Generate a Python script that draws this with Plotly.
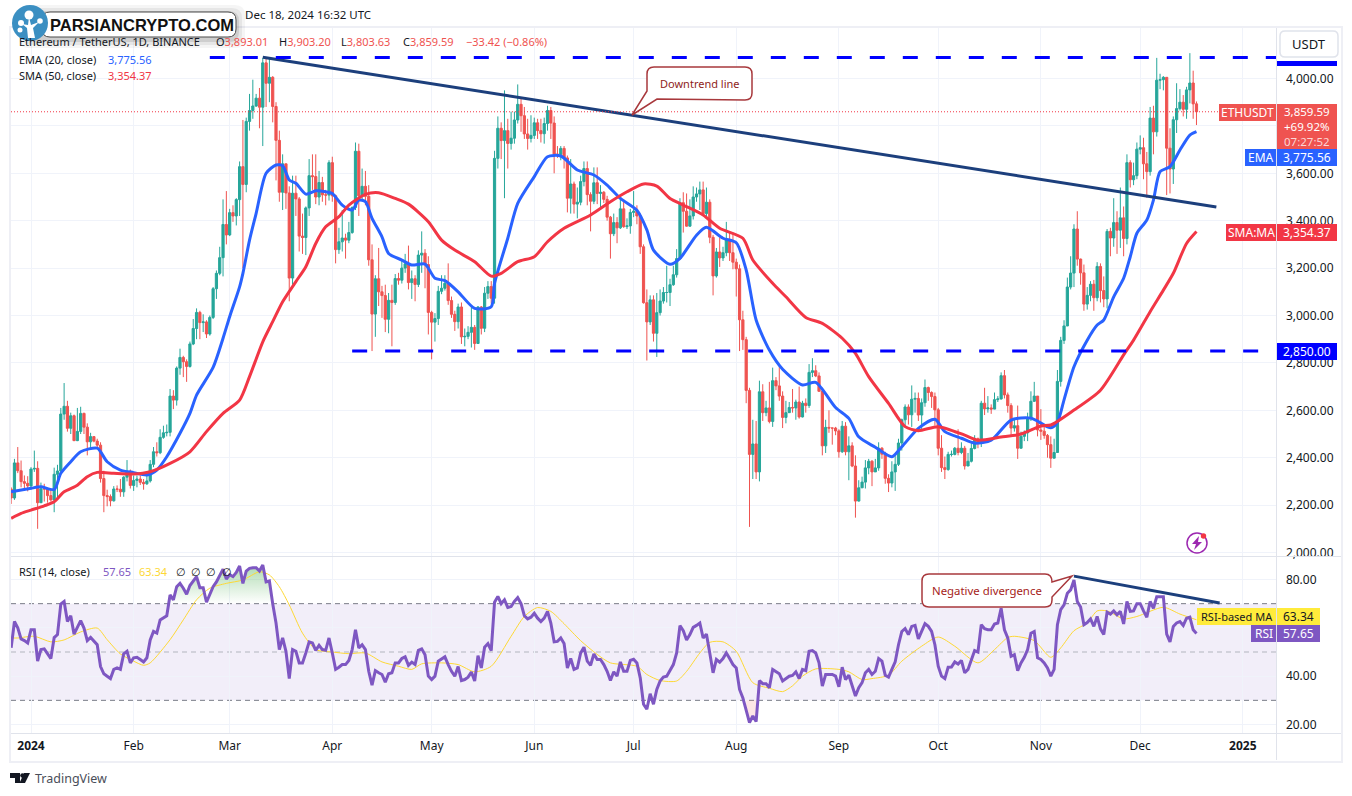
import pandas as pd
import plotly.graph_objects as go

W, H = 1352, 796
# the page draws about 791 px of paper height, positions below are reference pixels
PAPER_Y = 791

# daily candles, 2023-12-26 .. 2024-12-18, one line per month
CLOSE = [
    2230, 2378, 2345, 2299, 2292, 2281,
    2352, 2355, 2210, 2269, 2268, 2240, 2222, 2330, 2344, 2584, 2617, 2524, 2577, 2472, 2511, 2587, 2529, 2467, 2489, 2470, 2453, 2312, 2240, 2236, 2218, 2268, 2267, 2256, 2318, 2343, 2283,
    2304, 2310, 2296, 2290, 2302, 2372, 2425, 2421, 2486, 2505, 2507, 2660, 2643, 2778, 2823, 2805, 2785, 2880, 2945, 3013, 2970, 2973, 2922, 2992, 3113, 3178, 3244, 3384, 3340,
    3434, 3420, 3489, 3628, 3553, 3819, 3865, 3884, 3917, 3879, 4066, 3980, 4005, 3882, 3739, 3520, 3640, 3517, 3158, 3516, 3492, 3335, 3329, 3454, 3590, 3586, 3500, 3561, 3509, 3508, 3645,
    3505, 3278, 3311, 3327, 3318, 3350, 3456, 3693, 3505, 3545, 3503, 3235, 3006, 3155, 3100, 3084, 2984, 3064, 3055, 3156, 3149, 3200, 3218, 3139, 3155, 3131, 3255, 3263, 3215, 3013,
    2972, 2987, 3102, 3115, 3136, 3063, 3005, 2974, 3036, 2910, 2912, 2929, 2950, 2882, 3036, 2946, 3094, 3122, 3073, 3663, 3790, 3738, 3780, 3726, 3748, 3825, 3891, 3843, 3766, 3747, 3760,
    3813, 3780, 3767, 3810, 3865, 3812, 3680, 3680, 3705, 3665, 3495, 3555, 3470, 3478, 3565, 3620, 3510, 3482, 3560, 3515, 3520, 3490, 3415, 3345, 3392, 3370, 3450, 3375, 3378, 3435,
    3440, 3420, 3290, 3054, 2973, 3066, 2925, 3012, 3061, 3097, 3097, 3130, 3172, 3240, 3476, 3440, 3377, 3420, 3500, 3513, 3530, 3430, 3478, 3330, 3167, 3268, 3243, 3265, 3320, 3265, 3225,
    3197, 2982, 2898, 2684, 2414, 2458, 2340, 2678, 2590, 2610, 2553, 2725, 2703, 2660, 2570, 2590, 2612, 2610, 2635, 2572, 2630, 2620, 2760, 2767, 2745, 2680, 2450, 2528, 2525, 2525, 2513,
    2425, 2533, 2425, 2450, 2365, 2217, 2273, 2297, 2357, 2385, 2340, 2357, 2440, 2415, 2313, 2293, 2340, 2372, 2462, 2560, 2614, 2581, 2647, 2650, 2580, 2632, 2696, 2675, 2658, 2602,
    2440, 2358, 2350, 2414, 2414, 2440, 2422, 2440, 2365, 2385, 2439, 2480, 2465, 2630, 2606, 2610, 2605, 2645, 2648, 2746, 2665, 2620, 2525, 2535, 2440, 2490, 2505, 2565, 2638, 2660, 2517,
    2512, 2494, 2455, 2398, 2422, 2722, 2895, 2956, 3120, 3179, 3365, 3238, 3180, 3048, 3085, 3132, 3075, 3207, 3105, 3070, 3355, 3327, 3392, 3360, 3412, 3325, 3645, 3573, 3590, 3702,
    3708, 3640, 3607, 3833, 3775, 3993, 3995, 4005, 3706, 3618, 3826, 3873, 3900, 3870, 3952, 3981, 3893.01, 3859.59,
]
HIGH = [
    2275, 2395, 2445, 2388, 2325, 2322,
    2360, 2430, 2385, 2295, 2290, 2270, 2265, 2358, 2370, 2610, 2715, 2640, 2590, 2582, 2610, 2615, 2590, 2545, 2505, 2485, 2480, 2465, 2345, 2265, 2245, 2280, 2283, 2310, 2322, 2390, 2350,
    2325, 2325, 2325, 2310, 2335, 2390, 2445, 2465, 2520, 2535, 2540, 2690, 2685, 2785, 2860, 2830, 2815, 2890, 2985, 3030, 3020, 3005, 2980, 3000, 3120, 3190, 3290, 3490, 3525,
    3450, 3465, 3495, 3650, 3825, 3835, 3935, 3995, 3935, 3960, 4087, 4090, 4085, 4010, 3900, 3780, 3680, 3640, 3545, 3590, 3590, 3500, 3430, 3460, 3660, 3680, 3680, 3610, 3585, 3530, 3655,
    3670, 3510, 3370, 3445, 3345, 3395, 3460, 3730, 3725, 3620, 3610, 3550, 3300, 3170, 3285, 3125, 3130, 3095, 3130, 3175, 3180, 3235, 3260, 3295, 3190, 3170, 3275, 3355, 3280, 3250,
    3020, 3010, 3125, 3170, 3170, 3220, 3080, 3020, 3050, 3055, 2945, 2955, 3040, 2960, 3040, 3040, 3120, 3145, 3145, 3695, 3840, 3815, 3950, 3830, 3860, 3860, 3975, 3920, 3880, 3830, 3845,
    3835, 3830, 3830, 3835, 3885, 3880, 3840, 3715, 3715, 3715, 3675, 3660, 3565, 3540, 3590, 3650, 3650, 3520, 3625, 3625, 3550, 3525, 3505, 3420, 3430, 3415, 3490, 3490, 3410, 3450,
    3525, 3465, 3430, 3300, 3110, 3085, 3085, 3095, 3110, 3120, 3210, 3155, 3210, 3280, 3495, 3520, 3515, 3490, 3545, 3540, 3565, 3565, 3540, 3490, 3340, 3285, 3330, 3290, 3395, 3350, 3350,
    3240, 3215, 3020, 2910, 2695, 2560, 2555, 2725, 2710, 2640, 2720, 2780, 2740, 2785, 2680, 2640, 2635, 2690, 2645, 2700, 2640, 2650, 2795, 2820, 2790, 2760, 2695, 2560, 2600, 2525, 2530,
    2520, 2555, 2550, 2490, 2465, 2410, 2305, 2320, 2390, 2395, 2390, 2395, 2465, 2445, 2425, 2330, 2385, 2410, 2480, 2565, 2625, 2625, 2705, 2675, 2675, 2650, 2730, 2700, 2680, 2675,
    2610, 2495, 2405, 2425, 2430, 2445, 2520, 2465, 2450, 2420, 2465, 2495, 2485, 2640, 2695, 2660, 2625, 2675, 2660, 2760, 2770, 2675, 2630, 2560, 2620, 2510, 2515, 2590, 2680, 2720, 2660,
    2605, 2535, 2500, 2490, 2480, 2770, 2910, 2980, 3160, 3250, 3385, 3440, 3240, 3215, 3120, 3145, 3150, 3225, 3220, 3165, 3365, 3370, 3495, 3440, 3540, 3460, 3680, 3655, 3645, 3730,
    3760, 3750, 3690, 3880, 3885, 4087, 4020, 4010, 4005, 3790, 3840, 3980, 3955, 3930, 3965, 4107, 4033, 3903.20,
]
LOW = [
    2205, 2222, 2335, 2275, 2268, 2258,
    2265, 2340, 2100, 2210, 2215, 2210, 2215, 2170, 2225, 2330, 2560, 2510, 2500, 2470, 2470, 2500, 2500, 2410, 2440, 2465, 2440, 2295, 2170, 2195, 2195, 2215, 2255, 2235, 2235, 2300, 2270,
    2260, 2275, 2285, 2265, 2285, 2295, 2360, 2405, 2415, 2480, 2490, 2490, 2605, 2620, 2750, 2740, 2720, 2780, 2875, 2900, 2900, 2930, 2905, 2915, 2985, 3070, 3170, 3165, 3300,
    3335, 3395, 3380, 3420, 3200, 3520, 3780, 3830, 3880, 3790, 3715, 3880, 3900, 3815, 3570, 3480, 3445, 3450, 3060, 3130, 3420, 3270, 3260, 3255, 3420, 3530, 3470, 3465, 3480, 3465, 3485,
    3480, 3220, 3260, 3270, 3240, 3305, 3345, 3445, 3420, 3490, 3465, 3210, 2850, 2910, 3040, 2990, 2930, 2925, 2870, 3045, 3130, 3135, 3180, 3110, 3070, 3060, 3120, 3180, 3115, 2920,
    2815, 2890, 2960, 3090, 3105, 3045, 2990, 2935, 2945, 2880, 2870, 2900, 2865, 2855, 2880, 2920, 2930, 3070, 3050, 3050, 3620, 3660, 3495, 3620, 3700, 3725, 3810, 3775, 3745, 3700, 3730,
    3745, 3745, 3730, 3725, 3780, 3745, 3600, 3665, 3655, 3620, 3435, 3430, 3430, 3410, 3465, 3545, 3465, 3355, 3470, 3470, 3455, 3475, 3400, 3240, 3335, 3305, 3365, 3370, 3365, 3345,
    3415, 3385, 3260, 3050, 2810, 2960, 2890, 2825, 3000, 3050, 3055, 3040, 3125, 3160, 3235, 3350, 3375, 3375, 3405, 3480, 3445, 3420, 3415, 3305, 3085, 3160, 3205, 3230, 3250, 3230, 3195,
    3080, 2850, 2855, 2630, 2108, 2310, 2310, 2300, 2555, 2575, 2545, 2530, 2685, 2640, 2525, 2545, 2590, 2590, 2560, 2565, 2570, 2590, 2610, 2740, 2740, 2680, 2410, 2420, 2505, 2455, 2495,
    2400, 2420, 2410, 2305, 2360, 2147, 2215, 2275, 2270, 2330, 2280, 2345, 2345, 2395, 2290, 2255, 2275, 2260, 2365, 2430, 2530, 2540, 2530, 2590, 2555, 2515, 2615, 2640, 2610, 2535,
    2410, 2340, 2310, 2345, 2405, 2410, 2410, 2415, 2350, 2375, 2380, 2435, 2440, 2445, 2580, 2590, 2585, 2630, 2635, 2645, 2650, 2590, 2490, 2510, 2395, 2470, 2470, 2470, 2555, 2635, 2490,
    2475, 2480, 2400, 2357, 2400, 2420, 2700, 2880, 2955, 3110, 3120, 3210, 3130, 3020, 3025, 3060, 3020, 3060, 3055, 3035, 3030, 3250, 3290, 3260, 3285, 3250, 3300, 3540, 3550, 3575,
    3680, 3575, 3497, 3590, 3680, 3755, 3955, 3950, 3508, 3515, 3555, 3770, 3865, 3840, 3830, 3895, 3830, 3803.63,
]
FIRST_OPEN = 2268
RSI = [
    51.7, 62.6, 60, 55.4, 54.7, 53.7,
    59.2, 59.2, 46.2, 51, 51.3, 49.2, 47.3, 56, 57.2, 69.8, 70.9, 62.6, 65, 57.4, 59.9, 63, 59.9, 54.7, 56, 54.7, 53, 44, 41, 40, 39, 42.8, 43.4, 42.8, 49.2, 50.3, 45.5,
    47.6, 47.8, 46.9, 45.9, 47.6, 55, 58.5, 57.8, 63.3, 64.3, 65, 73.6, 71.6, 77, 78.4, 76.4, 73.9, 77.5, 79.4, 81.2, 76.6, 76.6, 70.6, 73.6, 77, 79, 81.5, 84.3, 80.2,
    82, 81.2, 82.9, 85.6, 78.4, 83.5, 84.6, 84.9, 84.9, 83.5, 86, 79, 79.4, 70, 62, 51, 55.8, 50.3, 39, 51, 50.3, 45.5, 45.5, 49.6, 54.2, 53.7, 50.7, 52.8, 51, 50.7, 55.8,
    49.6, 42.8, 43.7, 44.8, 44.8, 46.5, 51, 59.2, 51.7, 53, 51, 42, 36.3, 42.3, 41.4, 40.7, 37.5, 41, 41.4, 45.5, 45.5, 47.3, 48, 44.5, 45.8, 44.8, 50.7, 51.3, 48.9, 40,
    38.6, 40, 46.2, 47.3, 48, 44.8, 42, 40, 44, 38.2, 38.6, 39.6, 41.7, 38, 48.5, 43.4, 52, 53.5, 50.6, 70.6, 73, 70, 71.6, 68.4, 68.8, 70.9, 72.5, 70, 65, 63.7, 64.4,
    66, 64, 62.6, 64, 66.8, 62, 54.2, 54.4, 55.8, 53.5, 43.4, 47.3, 42.8, 43.4, 49.6, 52, 46.2, 44.5, 49.2, 46.9, 46.9, 44.8, 42, 38.2, 41.8, 40, 45.9, 42, 42, 46.5,
    47, 45.5, 39.3, 28.4, 26.3, 32.7, 28.4, 34.5, 38, 39.6, 40, 42.3, 44.8, 49.6, 60.9, 58.8, 55, 57.2, 60.2, 61, 62, 55.8, 57.4, 49.6, 41.4, 46.9, 45.8, 47.3, 49.6, 47.3, 44.8,
    43.4, 34.5, 31, 26.3, 20.8, 23.5, 21.2, 38.2, 36.9, 36.9, 35.2, 42.8, 42, 41, 38, 39, 40, 40.3, 41.8, 39, 42.8, 42.3, 50.3, 50.6, 49.6, 45.5, 35.9, 40.7, 40.7, 40.7, 40,
    35.6, 43.7, 38.6, 40.4, 36, 31.8, 35.2, 37.3, 41.4, 42.8, 40.7, 42, 47.3, 46.2, 40.4, 39.6, 42.8, 45.9, 53, 58.5, 59.7, 57.2, 60.6, 61, 55.4, 58.8, 61.7, 60.6, 58.5, 53,
    44.1, 40, 39, 43.7, 43.8, 45.9, 45, 46.5, 41.4, 42.8, 46.9, 50.6, 50, 61.3, 59.6, 59.2, 59.2, 61.6, 62, 68.1, 59.2, 55.8, 48.2, 48.9, 42.3, 45.5, 47.8, 51, 57.8, 58.5, 47.6,
    46.9, 45.5, 43.4, 40, 42.8, 61.3, 67.5, 69.5, 74.3, 75.7, 79.8, 70.9, 68.6, 61.3, 62.2, 63.7, 60.6, 64.7, 59.6, 57.2, 66.5, 65.7, 67, 65.4, 66.8, 61.6, 70.9, 66.8, 67, 70,
    70, 67, 64.4, 70.9, 68.1, 72.9, 72.9, 72.9, 57.4, 54.2, 60.6, 62, 62.6, 61, 64, 64.4, 59.2, 57.65,
]

# moving averages at these days (days after 2024-01-01)
EMA_DAY = [-6, 0, 3, 7, 9, 12, 15, 20, 23, 27, 31, 35, 38, 41, 45, 48, 50, 55, 58, 60, 63, 64, 66, 68, 71, 74, 76, 78, 80, 83, 86, 89, 91, 94, 97, 99, 101, 103, 106, 108, 112, 115, 119, 122, 125, 129, 134, 139, 140, 144, 147, 152, 156, 160, 165, 170, 174, 178, 183, 186, 188, 193, 196, 201, 204, 209, 213, 216, 219, 223, 227, 233, 237, 243, 247, 250, 255, 260, 263, 268, 273, 276, 281, 285, 290, 296, 302, 308, 310, 312, 315, 319, 322, 324, 327, 330, 332, 334, 337, 339, 341, 344, 347, 350, 352]
EMA = [2256, 2271, 2277, 2266, 2334, 2383, 2425, 2440, 2383, 2348, 2337, 2327, 2348, 2404, 2503, 2587, 2664, 2781, 2904, 2995, 3121, 3178, 3318, 3431, 3600, 3635, 3632, 3572, 3558, 3512, 3526, 3522, 3515, 3466, 3445, 3487, 3480, 3410, 3332, 3262, 3234, 3213, 3217, 3157, 3147, 3100, 3030, 3037, 3136, 3326, 3473, 3586, 3670, 3673, 3614, 3593, 3550, 3494, 3444, 3361, 3276, 3216, 3241, 3339, 3372, 3326, 3307, 3192, 2981, 2854, 2773, 2707, 2718, 2612, 2566, 2488, 2444, 2404, 2446, 2524, 2562, 2510, 2482, 2461, 2474, 2559, 2567, 2526, 2549, 2644, 2784, 2896, 2960, 2981, 3079, 3157, 3248, 3347, 3403, 3487, 3607, 3628, 3698, 3761, 3775.56]
SMA_DAY = [-6, -3, 0, 4, 7, 10, 14, 17, 20, 25, 31, 36, 42, 48, 53, 58, 63, 66, 70, 73, 76, 80, 83, 86, 89, 93, 96, 101, 105, 110, 114, 120, 124, 128, 134, 139, 142, 147, 152, 156, 161, 169, 175, 180, 185, 189, 193, 197, 203, 208, 215, 218, 224, 228, 234, 239, 245, 249, 253, 259, 264, 268, 274, 282, 286, 293, 299, 305, 308, 315, 323, 330, 333, 338, 342, 345, 349, 352]
SMA = [2144, 2165, 2179, 2197, 2214, 2256, 2284, 2320, 2338, 2334, 2331, 2341, 2376, 2425, 2510, 2587, 2643, 2742, 2889, 2974, 3058, 3143, 3206, 3304, 3374, 3417, 3466, 3511, 3518, 3494, 3470, 3396, 3318, 3276, 3227, 3166, 3178, 3227, 3248, 3311, 3368, 3424, 3480, 3522, 3555, 3546, 3494, 3466, 3424, 3368, 3326, 3234, 3136, 3079, 2992, 2967, 2904, 2840, 2742, 2629, 2531, 2514, 2531, 2495, 2474, 2487, 2500, 2534, 2538, 2601, 2685, 2834, 2896, 3016, 3107, 3178, 3304, 3354.37]
RSI_MA_DAY = [-6, -4, 1, 6, 10, 15, 20, 23, 27, 31, 34, 36, 42, 46, 50, 54, 59, 64, 69, 72, 75, 78, 82, 86, 91, 96, 101, 106, 111, 115, 118, 124, 129, 134, 139, 145, 149, 153, 157, 161, 166, 171, 175, 183, 186, 190, 195, 198, 202, 205, 209, 213, 218, 223, 227, 230, 233, 237, 244, 247, 251, 254, 259, 263, 269, 274, 279, 286, 291, 295, 297, 303, 308, 311, 315, 319, 322, 325, 330, 334, 342, 347, 352]
RSI_MA = [55.8, 55.8, 56.5, 54.2, 55, 58.3, 59.9, 55.1, 49.2, 46.2, 44.5, 45.5, 55.1, 63.3, 71.6, 76.4, 78.4, 79.8, 83.2, 81.9, 77, 69.5, 57.8, 51, 50, 49.3, 49.6, 45.9, 44.1, 42.8, 45.1, 45.5, 44.8, 41.8, 44.1, 56.5, 64.7, 68.4, 66.8, 61.7, 54.7, 49, 45.5, 44.1, 40.7, 38.2, 38, 42, 49.6, 54, 54.2, 50.3, 37.3, 35, 33.6, 36, 40, 43, 42.8, 41.8, 38.6, 39, 40.4, 46.2, 52.4, 56.2, 52.4, 45.5, 51, 56, 56.5, 54.7, 47.8, 51.7, 58.8, 62, 67, 67, 63.7, 64.7, 68.5, 65.7, 63.34]

RESISTANCE = 4089
SUPPORT = 2850
LAST_PRICE = 3859.59
TREND_DATES = ["2024-03-11", "2024-12-24"]
TREND_PRICES = [4090, 3458]
RSI_TREND_DATES = ["2024-11-11", "2024-12-25"]
RSI_TREND_VALUES = [81.4, 70.3]

PRICE_TICKS = [2000, 2200, 2400, 2600, 2800, 3000, 3200, 3400, 3600, 3800, 4000]
# 3,800 sits fully under the last-price label, same for RSI 60 further down
PRICE_LABELS = ["2,000.00", "2,200.00", "2,400.00", "2,600.00", "2,800.00", "3,000.00", "3,200.00", "3,400.00", "3,600.00", "", "4,000.00"]
RSI_TICKS = [20, 40, 60, 80]
RSI_LABELS = ["20.00", "40.00", "", "80.00"]
TIME_TICKS = ["2024-01-01", "2024-02-01", "2024-03-01", "2024-04-01", "2024-05-01", "2024-06-01", "2024-07-01",
              "2024-08-01", "2024-09-01", "2024-10-01", "2024-11-01", "2024-12-01", "2025-01-01"]
TIME_LABELS = ["<b>2024</b>", "Feb", "Mar", "Apr", "May", "Jun", "Jul", "Aug", "Sep", "Oct", "Nov", "Dec", "<b>2025</b>"]

FONT = "Noto Sans"
UP, DOWN = "#26a69a", "#ef5350"
BLUE, RED, PURPLE, YELLOW = "#2962ff", "#f23645", "#7e57c2", "#ffeb3b"
NAVY = "#1c3f7c"
GRID = "#f0f3fa"
EDGE = "#e0e3eb"
CALLOUT = "#a8383c"

# where the grid sits in reference pixels
PRICE_4000_Y = 78.5
PX_PER_USD = 0.237

dates = pd.date_range("2023-12-26", periods=len(CLOSE))
opens = [FIRST_OPEN] + CLOSE[:-1]


def day_dates(days):
    return [pd.Timestamp("2024-01-01") + pd.Timedelta(days=d) for d in days]


def px(x):
    return x / W


def py(y):
    return 1 - y / PAPER_Y


def box(x0, y0, x1, y1, fill, line=None, width=0, layer="above"):
    return dict(type="rect", xref="paper", yref="paper", x0=px(x0), x1=px(x1), y0=py(y0), y1=py(y1),
                fillcolor=fill, line=dict(color=line, width=width) if line else dict(width=0), layer=layer)


def path_shape(points, fill=None, line=None, width=0):
    return dict(type="path", xref="paper", yref="paper", path=points, fillcolor=fill,
                line=dict(color=line, width=width) if line else dict(width=0))


def rounded(x0, y0, x1, y1, r):
    return (f"M{px(x0 + r)},{py(y0)} L{px(x1 - r)},{py(y0)} Q{px(x1)},{py(y0)} {px(x1)},{py(y0 + r)} "
            f"L{px(x1)},{py(y1 - r)} Q{px(x1)},{py(y1)} {px(x1 - r)},{py(y1)} "
            f"L{px(x0 + r)},{py(y1)} Q{px(x0)},{py(y1)} {px(x0)},{py(y1 - r)} "
            f"L{px(x0)},{py(y0 + r)} Q{px(x0)},{py(y0)} {px(x0 + r)},{py(y0)} Z")


def circle(cx, cy, r, fill=None, line=None, width=0):
    return dict(type="circle", xref="paper", yref="paper", x0=px(cx - r), x1=px(cx + r), y0=py(cy + r), y1=py(cy - r),
                fillcolor=fill, line=dict(color=line, width=width) if line else dict(width=0))


def label(x, y, text, color="#131722", size=11, anchor="left", family=FONT):
    return dict(xref="paper", yref="paper", x=px(x), y=py(y), text=text, showarrow=False, xanchor=anchor,
                yanchor="middle", font=dict(family=family, size=size, color=color), borderpad=0, align=anchor)


fig = go.Figure()

fig.add_trace(go.Candlestick(
    x=dates, open=opens, high=HIGH, low=LOW, close=CLOSE,
    increasing=dict(line=dict(color=UP, width=1), fillcolor=UP),
    decreasing=dict(line=dict(color=DOWN, width=1), fillcolor=DOWN),
    xaxis="x", yaxis="y", showlegend=False,
))
fig.add_trace(go.Scatter(x=day_dates(EMA_DAY), y=EMA, mode="lines", line=dict(color=BLUE, width=3, shape="spline", smoothing=0.7), xaxis="x", yaxis="y"))
fig.add_trace(go.Scatter(x=day_dates(SMA_DAY), y=SMA, mode="lines", line=dict(color=RED, width=3, shape="spline", smoothing=0.7), xaxis="x", yaxis="y"))
fig.add_trace(go.Scatter(x=TREND_DATES, y=TREND_PRICES, mode="lines", line=dict(color=NAVY, width=3), xaxis="x", yaxis="y"))

x_start = "2023-12-25 23:00"
x_end = "2025-01-11 04:00"
fig.add_trace(go.Scatter(x=["2024-02-24", x_end], y=[RESISTANCE, RESISTANCE], mode="lines",
                         line=dict(color="#0000ff", width=3, dash="15px,18px"), xaxis="x", yaxis="y"))
fig.add_trace(go.Scatter(x=["2024-04-07", x_end], y=[SUPPORT, SUPPORT], mode="lines",
                         line=dict(color="#0000ff", width=3, dash="15px,18px"), xaxis="x", yaxis="y"))
fig.add_trace(go.Scatter(x=[x_start, x_end], y=[LAST_PRICE, LAST_PRICE], mode="lines",
                         line=dict(color=RED, width=1, dash="1px,2px"), xaxis="x", yaxis="y"))

# overbought / oversold glow, only where the reference shows it
over = [(d, r) for d, r in zip(dates, RSI) if pd.Timestamp("2024-02-12") <= d <= pd.Timestamp("2024-03-14")]
fig.add_trace(go.Scatter(x=[o[0] for o in over], y=[70] * len(over), mode="lines", line=dict(width=0),
                         xaxis="x2", yaxis="y2"))
fig.add_trace(go.Scatter(x=[o[0] for o in over], y=[max(o[1], 70) for o in over], mode="lines", line=dict(width=0),
                         fill="tonexty",
                         fillgradient=dict(type="vertical", colorscale=[[0, "rgba(76,175,80,0)"], [1, "rgba(76,175,80,0.45)"]]),
                         xaxis="x2", yaxis="y2"))
under = [(d, r) for d, r in zip(dates, RSI) if pd.Timestamp("2024-08-04") <= d <= pd.Timestamp("2024-08-07")]
fig.add_trace(go.Scatter(x=[u[0] for u in under], y=[30] * len(under), mode="lines", line=dict(width=0),
                         xaxis="x2", yaxis="y2"))
fig.add_trace(go.Scatter(x=[u[0] for u in under], y=[min(u[1], 30) for u in under], mode="lines", line=dict(width=0),
                         fill="tonexty", fillcolor="rgba(239,83,80,0.15)", xaxis="x2", yaxis="y2"))

fig.add_trace(go.Scatter(x=day_dates(RSI_MA_DAY), y=RSI_MA, mode="lines", line=dict(color="#fdd835", width=1, shape="spline", smoothing=0.7), xaxis="x2", yaxis="y2"))
fig.add_trace(go.Scatter(x=dates, y=RSI, mode="lines", line=dict(color=PURPLE, width=3), xaxis="x2", yaxis="y2"))
fig.add_trace(go.Scatter(x=RSI_TREND_DATES, y=RSI_TREND_VALUES, mode="lines", line=dict(color=NAVY, width=3), xaxis="x2", yaxis="y2"))

shapes = [
    # RSI band
    dict(type="rect", xref="paper", yref="y2", x0=px(11), x1=px(1276.5), y0=30, y1=70,
         fillcolor="rgba(126,87,194,0.1)", line=dict(width=0), layer="below"),
    dict(type="line", xref="paper", yref="y2", x0=px(11), x1=px(1276.5), y0=70, y1=70,
         line=dict(color="#787b86", width=1, dash="5px,4px"), layer="below"),
    dict(type="line", xref="paper", yref="y2", x0=px(11), x1=px(1276.5), y0=50, y1=50,
         line=dict(color="#b2b5be", width=1, dash="5px,4px"), layer="below"),
    dict(type="line", xref="paper", yref="y2", x0=px(11), x1=px(1276.5), y0=30, y1=30,
         line=dict(color="#787b86", width=1, dash="5px,4px"), layer="below"),
    # frame
    box(10, 27, 1342, 762, "rgba(0,0,0,0)", "#eeeff5", 2),
    box(1276, 28, 1277, 760, EDGE),
    box(11, 556, 1341, 557, EDGE),
    box(11, 733, 1341, 734, EDGE),
    # price labels on the scale
    box(1277, 61, 1337, 66, "#0000ff"),
    box(1219, 104, 1276, 121, DOWN),
    box(1277, 104, 1337, 149, DOWN),
    box(1245, 149, 1276, 166, BLUE),
    box(1277, 149, 1337, 166, BLUE),
    box(1226, 224, 1276, 241, RED),
    box(1277, 224, 1337, 241, RED),
    box(1277, 343, 1337, 360, "#0000ff"),
    box(1197, 608, 1276, 625, YELLOW),
    box(1277, 608, 1320, 625, YELLOW),
    box(1251, 625, 1276, 642, PURPLE),
    box(1277, 625, 1320, 642, PURPLE),
    path_shape(rounded(1280, 31, 1338, 57, 5), "white", EDGE, 1.5),
    # callouts
    path_shape(f"M{px(632)},{py(115)} L{px(647)},{py(91)} L{px(647)},{py(74)} Q{px(647)},{py(67)} {px(654)},{py(67)} "
               f"L{px(745)},{py(67)} Q{px(752)},{py(67)} {px(752)},{py(74)} L{px(752)},{py(93)} Q{px(752)},{py(100)} {px(745)},{py(100)} "
               f"L{px(657)},{py(99)} Z", "white", CALLOUT, 1.5),
    path_shape(f"M{px(1072)},{py(576)} L{px(1052)},{py(597)} L{px(1052)},{py(600)} Q{px(1052)},{py(607)} {px(1045)},{py(607)} "
               f"L{px(929)},{py(607)} Q{px(922)},{py(607)} {px(922)},{py(600)} L{px(922)},{py(581)} Q{px(922)},{py(574)} {px(929)},{py(574)} "
               f"L{px(1045)},{py(574)} Q{px(1052)},{py(574)} {px(1052)},{py(582)} Z", "white", CALLOUT, 1.5),
    # lightning badge
    circle(1197, 543, 10, None, "#9c27b0", 1.5),
    path_shape(f"M{px(1199)},{py(536)} L{px(1192)},{py(544)} L{px(1196)},{py(544)} L{px(1194)},{py(550)} "
               f"L{px(1202)},{py(542)} L{px(1198)},{py(542)} Z", "#9c27b0"),
    circle(1203.5, 536, 2.7, RED),
    # TradingView logo
    path_shape(f"M{px(10)},{py(773)} L{px(20)},{py(773)} L{px(20)},{py(783)} L{px(15)},{py(783)} L{px(15)},{py(778)} L{px(10)},{py(778)} Z", "#131722"),
    circle(22.5, 775.5, 2.3, "#131722"),
    path_shape(f"M{px(24)},{py(773)} L{px(30)},{py(773)} L{px(25)},{py(783)} L{px(19.5)},{py(783)} Z", "#131722"),
]
# watermark, soft shadow first
for spread, alpha in [(9, 0.04), (6, 0.06), (3, 0.1)]:
    shapes.append(path_shape(rounded(42 - spread - 14, 12 - spread + 2, 236 + spread, 37 + spread + 2, 10), f"rgba(0,0,0,{alpha})"))
shapes += [
    path_shape(rounded(42, 12, 236, 37, 8), "white", "#4a4a4a", 1),
    circle(30, 23, 18, "#3b8fc2"),
    circle(29, 15, 4.5, "white"),
    circle(21, 23, 3, "white"),
    circle(40, 21, 2.8, "white"),
    circle(20, 30, 2.5, "white"),
    path_shape(f"M{px(28)},{py(38)} L{px(27)},{py(28)} L{px(22)},{py(24)} L{px(28)},{py(25)} L{px(29)},{py(17)} L{px(31)},{py(25)} "
               f"L{px(39)},{py(22)} L{px(33)},{py(28)} L{px(35)},{py(38)} Z", "white"),
]

annotations = [
    label(244, 14, "Dec 18, 2024 16:32 UTC", size=11.5),
    label(18, 42, "Ethereum / TetherUS, 1D, BINANCE"),
    label(215, 42, '<span style="color:#131722">O</span>3,893.01', DOWN),
    label(278, 42, '<span style="color:#131722">H</span>3,903.20', DOWN),
    label(340, 42, '<span style="color:#131722">L</span>3,803.63', DOWN),
    label(402, 42, '<span style="color:#131722">C</span>3,859.59', DOWN),
    label(465, 42, "−33.42 (−0.86%)", DOWN),
    label(18, 59, "EMA (20, close)"),
    label(107, 59, "3,775.56", BLUE),
    label(18, 76, "SMA (50, close)"),
    label(107, 76, "3,354.37", RED),
    label(18, 571, "RSI (14, close)"),
    label(102, 571, "57.65", PURPLE),
    label(138, 571, "63.34", "#fdd835"),
    label(175, 571, "∅"),
    label(190, 571, "∅"),
    label(205, 571, "∅"),
    label(221, 571, "∅"),
    label(49, 25, "<b>PARSIANCRYPTO.COM</b>", "#111111", 16.5, family="Liberation Sans"),
    label(1309, 44, "USDT", size=13, anchor="center"),
    label(1247.5, 112.5, "ETHUSDT", "white", 12, "center"),
    label(1307, 126.5, '3,859.59<br>+69.92%<br><span style="color:#fbd5d4">07:27:52</span>', "white", 11.5, "center"),
    label(1260.5, 157.5, "EMA", "white", 12, "center"),
    label(1307, 157.5, "3,775.56", "white", 12, "center"),
    label(1251, 232.5, "SMA:MA", "white", 12, "center"),
    label(1307, 232.5, "3,354.37", "white", 12, "center"),
    label(1307, 351.5, "2,850.00", "white", 12, "center"),
    label(1236.5, 616.5, "RSI-based MA", "#131722", 11, "center"),
    label(1298.5, 616.5, "63.34", "#131722", 12, "center"),
    label(1263.5, 633.5, "RSI", "white", 12, "center"),
    label(1298.5, 633.5, "57.65", "white", 12, "center"),
    label(699.5, 83, "Downtrend line", "#8f1d21", 11, "center"),
    label(987, 590, "Negative divergence", "#a51c20", 11.4, "center"),
    label(34, 778, "TradingView", "#4a4e59", 12.5),
]

grid = dict(showgrid=True, gridcolor=GRID, gridwidth=1, zeroline=False, showline=False)
fig.update_layout(
    width=W, height=H,
    margin=dict(l=0, r=0, t=0, b=0),
    paper_bgcolor="white", plot_bgcolor="white",
    showlegend=False, hovermode=False, boxgap=0.05,
    font=dict(family=FONT, size=12, color="#131722"),
    xaxis=dict(domain=[px(11), px(1276.5)], range=[x_start, x_end], type="date", anchor="y",
               tickvals=TIME_TICKS, showticklabels=False, rangeslider=dict(visible=False), ticks="", **grid),
    xaxis2=dict(domain=[px(11), px(1276.5)], range=[x_start, x_end], type="date", anchor="y2",
                tickvals=TIME_TICKS, ticktext=TIME_LABELS, ticks="outside", ticklen=2, tickcolor="rgba(0,0,0,0)",
                tickfont=dict(family=FONT, size=12, color="#131722"), **grid),
    yaxis=dict(domain=[py(556), py(28)],
               range=[4000 - (556 - PRICE_4000_Y) / PX_PER_USD, 4000 + (PRICE_4000_Y - 28) / PX_PER_USD],
               side="right", anchor="x", tickvals=PRICE_TICKS, ticktext=PRICE_LABELS,
               ticks="outside", ticklen=6, tickcolor="rgba(0,0,0,0)",
               tickfont=dict(family=FONT, size=12, color="#131722"), **grid),
    yaxis2=dict(domain=[py(733), py(557)], range=[80 - (733 - 579.5) / 2.4167, 80 + (579.5 - 557) / 2.4167],
                side="right", anchor="x2", tickvals=RSI_TICKS, ticktext=RSI_LABELS,
                ticks="outside", ticklen=6, tickcolor="rgba(0,0,0,0)",
                tickfont=dict(family=FONT, size=12, color="#131722"), **grid),
    shapes=shapes,
    annotations=annotations,
)

assert len(CLOSE) == len(HIGH) == len(LOW) == len(RSI) == 359
assert len(EMA_DAY) == len(EMA) and len(SMA_DAY) == len(SMA) and len(RSI_MA_DAY) == len(RSI_MA)

fig.write_html("out.html", config={"displayModeBar": False}, post_script="document.body.style.margin='0';")
